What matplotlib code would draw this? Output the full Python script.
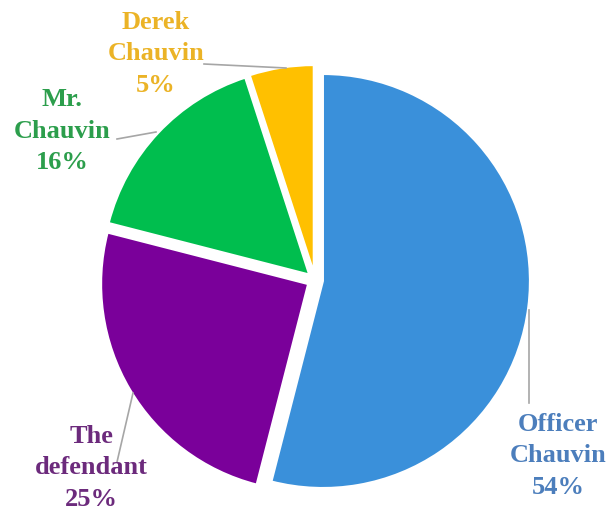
import matplotlib
matplotlib.use("Agg")
import matplotlib.pyplot as plt

# share of references to the defendant, clockwise from 12 o'clock
names = ["Officer\nChauvin", "The\ndefendant", "Mr.\nChauvin", "Derek\nChauvin"]
shares = [54, 25, 16, 5]
slice_colors = ["#3A90DA", "#7A009A", "#00BE4E", "#FFC000"]
text_colors = ["#4C7EBC", "#6C2A7C", "#2C9E4C", "#EBB326"]

W, H = 606, 512
fig = plt.figure(figsize=(W / 100, H / 100), dpi=100)
ax = fig.add_axes([0, 0, 1, 1])

# explode is in data units here (axes run in pixels), so 8 = 8 px gap
ax.pie(
    shares,
    colors=slice_colors,
    startangle=90,
    counterclock=False,
    center=(315, H - 280),
    radius=207,
    explode=[8, 8, 8, 8],
    wedgeprops=dict(edgecolor="white", linewidth=1.5),
)
ax.set_xlim(0, W)
ax.set_ylim(0, H)
ax.set_aspect("equal")
ax.axis("off")

# label anchors and leader lines, in pixel coords measured from the top
label_pos = [(558, 456), (91, 468), (62, 131), (156, 54)]
leaders = [
    [(529, 310), (529, 403)],
    [(133, 393), (117, 462)],
    [(117, 139), (156, 132)],
    [(204, 64), (286, 68)],
]

for name, pct, col, (x, y) in zip(names, shares, text_colors, label_pos):
    ax.text(x, H - y, f"{name}\n{pct}%", color=col, ha="center", va="center",
            fontsize=19, fontweight="bold", family="Liberation Serif",
            linespacing=1.45)

for (x0, y0), (x1, y1) in leaders:
    ax.plot([x0, x1], [H - y0, H - y1], color="#A6A6A6", lw=1.2)

fig.savefig("out.png", dpi=100)
